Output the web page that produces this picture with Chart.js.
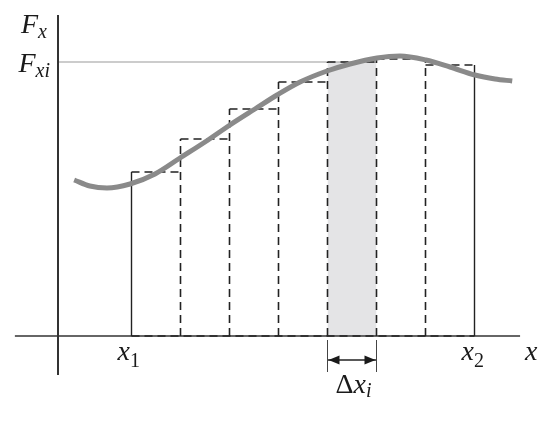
<!DOCTYPE html>
<html>
<head>
<meta charset="utf-8">
<script src="https://cdn.jsdelivr.net/npm/chart.js@4/dist/chart.umd.min.js"></script>
<style>
  body { margin: 0; background: #fff; }
  #wrap { width: 556px; height: 426px; }
</style>
</head>
<body>
<div id="wrap"><canvas id="chart"></canvas></div>
<script>
// Rectangle edges (x) and heights (F) of the strips under the curve
const edges = [1.5, 2.5, 3.5, 4.5, 5.5, 6.5, 7.5, 8.5];
const heights = [16.4, 19.7, 22.7, 25.4, 27.4, 27.7, 27.1];
const shadedIndex = 4;

// Force curve F(x)
const curveX = [0.33, 0.65, 1.0, 1.47, 1.98, 2.49, 3.0, 3.51, 4.02, 4.47, 4.94, 5.49, 5.96, 6.51, 6.98, 7.51, 8.0, 8.51, 8.92, 9.27];
const curveY = [15.6, 15.0, 14.8, 15.2, 16.2, 17.8, 19.4, 21.1, 22.7, 24.1, 25.4, 26.5, 27.2, 27.8, 28.0, 27.6, 26.9, 26.1, 25.7, 25.5];

// Extent of the drawn axes
const xAxisRange = [-0.88, 9.43];
const yAxisRange = [-3.9, 32.1];
const arrowLevel = -2.4;
const tickRange = [-0.4, -3.6];

const ink = '#222';
const seg = (pts, opts) => Object.assign({
    data: pts.map(p => ({x: p[0], y: p[1]})),
    borderColor: ink,
    borderWidth: 1.4,
    pointRadius: 0,
    fill: false,
    tension: 0
}, opts);

const datasets = [];

// Curve
datasets.push(seg(curveX.map((x, i) => [x, curveY[i]]), {
    borderColor: '#8a8a8a', borderWidth: 5, cubicInterpolationMode: 'monotone', order: 0
}));

// Shaded strip
const a = edges[shadedIndex], b = edges[shadedIndex + 1], hs = heights[shadedIndex];
datasets.push(seg([[a, 0], [a, hs], [b, hs], [b, 0]], {
    borderWidth: 0, borderColor: 'rgba(0,0,0,0)', backgroundColor: '#e4e4e6', fill: 'origin', order: 9
}));

// F_xi level line
datasets.push(seg([[0, hs], [b, hs]], { borderColor: '#9a9a9a', borderWidth: 1.2, order: 4 }));

// Dashed tops
heights.forEach((h, i) => {
    datasets.push(seg([[edges[i], h], [edges[i + 1], h]], { borderDash: [8, 5], borderWidth: 1.6, order: 2 }));
});
// Dashed inner verticals
for (let i = 1; i < edges.length - 1; i++) {
    datasets.push(seg([[edges[i], 0], [edges[i], Math.max(heights[i - 1], heights[i])]], { borderDash: [8, 5], borderWidth: 1.6, order: 2 }));
}
// Solid outer verticals x1, x2
datasets.push(seg([[edges[0], 0], [edges[0], heights[0]]], { borderWidth: 1.4, order: 2 }));
datasets.push(seg([[edges[edges.length - 1], 0], [edges[edges.length - 1], heights[heights.length - 1]]], { borderWidth: 1.4, order: 2 }));
// Dashed bottom
datasets.push(seg([[edges[0], 0], [edges[edges.length - 1], 0]], { borderDash: [8, 5], borderWidth: 1.6, order: 2 }));

// Axes
datasets.push(seg([[xAxisRange[0], 0], [xAxisRange[1], 0]], { borderColor: '#333', borderWidth: 1.5, order: 3 }));
datasets.push(seg([[0, yAxisRange[0]], [0, yAxisRange[1]]], { borderColor: '#333', borderWidth: 2, order: 3 }));

// Delta x_i dimension
datasets.push(seg([[a, tickRange[0]], [a, tickRange[1]]], { borderColor: '#444', borderWidth: 1, order: 3 }));
datasets.push(seg([[b, tickRange[0]], [b, tickRange[1]]], { borderColor: '#444', borderWidth: 1, order: 3 }));
datasets.push(seg([[a, arrowLevel], [b, arrowLevel]], { borderWidth: 1.3, order: 3 }));

// Text labels and arrow heads
const labelPlugin = {
    id: 'labels',
    afterDatasetsDraw(chart) {
        const ctx = chart.ctx;
        const xs = chart.scales.x, ys = chart.scales.y;
        const serif = '"Liberation Serif", "DejaVu Serif", serif';

        function runFont(r) {
            const size = r[2] ? 20 : 28;
            return (r[1] ? 'italic ' : '') + size + 'px ' + serif;
        }
        function draw(runs, px, py, align) {
            ctx.save();
            ctx.fillStyle = '#1a1a1a';
            ctx.textBaseline = 'alphabetic';
            let total = 0;
            runs.forEach(r => { ctx.font = runFont(r); total += ctx.measureText(r[0]).width; });
            let cx = align === 'right' ? px - total : px;
            runs.forEach(r => {
                ctx.font = runFont(r);
                ctx.fillText(r[0], cx, py + (r[2] ? r[3] : 0));
                cx += ctx.measureText(r[0]).width;
            });
            ctx.restore();
        }

        const y0 = ys.getPixelForValue(0);
        const yAxisPx = xs.getPixelForValue(0);
        draw([['F', true, false], ['x', true, true, 5]], yAxisPx - 11, ys.getPixelForValue(yAxisRange[1]) + 18, 'right');
        draw([['F', true, false], ['xi', true, true, 5]], yAxisPx - 8, ys.getPixelForValue(hs) + 10, 'right');
        draw([['x', true, false], ['1', false, true, 7]], xs.getPixelForValue(edges[0]) - 14, y0 + 24);
        draw([['x', true, false], ['2', false, true, 7]], xs.getPixelForValue(edges[edges.length - 1]) - 13, y0 + 24);
        draw([['x', true, false]], xs.getPixelForValue(xAxisRange[1]) + 5, y0 + 24);
        draw([['Δ', false, false], ['x', true, false], ['i', true, true, 4]], xs.getPixelForValue(a) + 8, y0 + 57);

        // arrow heads
        const ay = ys.getPixelForValue(arrowLevel);
        const pa = xs.getPixelForValue(a), pb = xs.getPixelForValue(b);
        ctx.save();
        ctx.fillStyle = '#1a1a1a';
        ctx.beginPath();
        ctx.moveTo(pa + 1, ay); ctx.lineTo(pa + 12, ay - 4.5); ctx.lineTo(pa + 12, ay + 4.5); ctx.closePath();
        ctx.moveTo(pb - 1, ay); ctx.lineTo(pb - 12, ay - 4.5); ctx.lineTo(pb - 12, ay + 4.5); ctx.closePath();
        ctx.fill();
        ctx.restore();
    }
};

new Chart(document.getElementById('chart'), {
    type: 'line',
    data: { datasets: datasets },
    options: {
        responsive: true,
        maintainAspectRatio: false,
        animation: false,
        layout: { padding: 0, autoPadding: false },
        plugins: { legend: { display: false }, tooltip: { enabled: false } },
        scales: {
            x: { type: 'linear', display: false, min: -58 / 49, max: 498 / 49 },
            y: { type: 'linear', display: false, min: -9.0, max: 33.6 }
        }
    },
    plugins: [labelPlugin]
});
</script>
</body>
</html>
